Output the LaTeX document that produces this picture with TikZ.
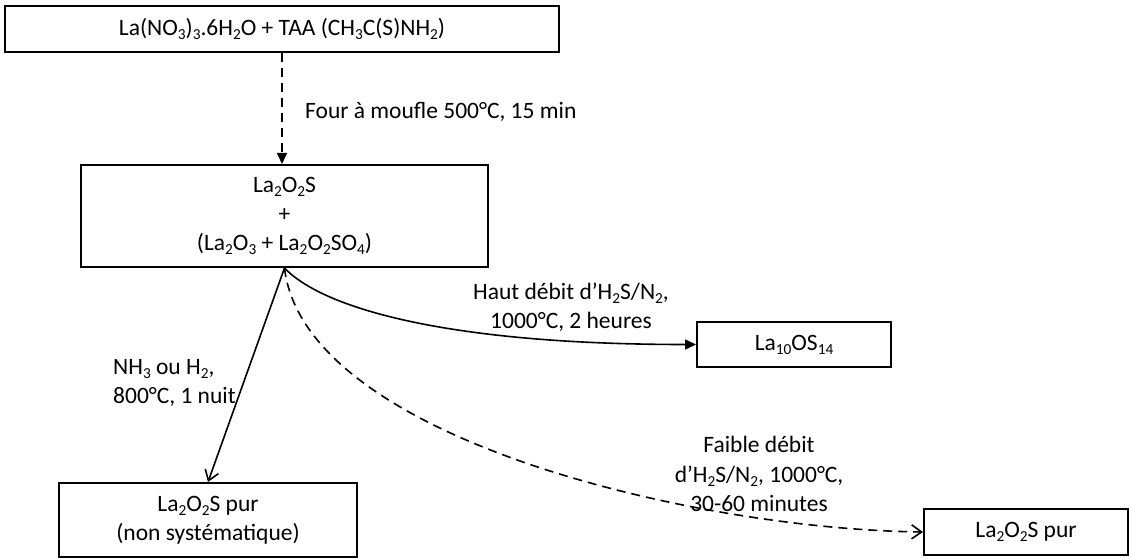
\documentclass[tikz,border=0pt]{standalone}
\usepackage{fontspec}
\setmainfont{Carlito}
\usetikzlibrary{arrows.meta}
\newcommand\chsub[1]{\raisebox{-4pt}{\fontsize{15.3}{15.3}\selectfont #1}}
\begin{document}
\begin{tikzpicture}[x=1pt,y=-1pt,
  box/.style={draw, line width=2pt, inner sep=0pt, align=center, font=\fontsize{23.5}{29}\selectfont},
  lbl/.style={inner sep=0pt, font=\fontsize{23.5}{29.5}\selectfont},
  conn/.style={line width=1.6pt},
  dsh/.style={dash pattern=on 9pt off 6pt},
  filltip/.style={-{Triangle[length=11pt,width=10pt]}},
  opentip/.style={-{Straight Barb[length=10pt,width=14pt,line width=1.6pt]}},
]
\useasboundingbox (0,0) rectangle (1130,559);
\fill[white] (0,0) rectangle (1130,559);
\node[box, minimum width=554pt, minimum height=46pt] (top) at (282,29)
  {La(NO\chsub{3})\chsub{3}.6H\chsub{2}O + TAA (CH\chsub{3}C(S)NH\chsub{2})};
\node[box, minimum width=407pt, minimum height=102pt] (b2) at (284.5,216)
  {La\chsub{2}O\chsub{2}S\\+\\(La\chsub{2}O\chsub{3} + La\chsub{2}O\chsub{2}SO\chsub{4})};
\node[box, minimum width=194pt, minimum height=45pt] (b3) at (794,344.5)
  {La\chsub{10}OS\chsub{14}};
\node[box, minimum width=298pt, minimum height=74pt] (b4) at (208,520)
  {La\chsub{2}O\chsub{2}S pur\\(non systématique)};
\node[box, minimum width=204pt, minimum height=46pt] (b5) at (1026,532)
  {La\chsub{2}O\chsub{2}S pur};

\draw[conn, dsh, filltip] (top.south) -- (top.south |- b2.north);
\draw[conn, filltip] (b2.south) .. controls +(38,40) and +(-250,0) .. (b3.west);
\draw[conn, opentip] (b2.south) -- (b4.north);
\draw[conn, dsh, opentip] (b2.south) .. controls +(20,170) and +(-230,-3) .. (b5.west);

\node[lbl, anchor=west] (l1) at (305,112) {Four à moufle 500°C, 15 min};
\node[lbl, align=center] (l2) at (571,307) {Haut débit d’H\chsub{2}S/N\chsub{2},\\1000°C, 2 heures};
\node[lbl, align=left, anchor=west] (l3) at (113,383) {NH\chsub{3} ou H\chsub{2},\\800°C, 1 nuit};
\node[lbl, align=center] (l4) at (759,474) {Faible débit\\d’H\chsub{2}S/N\chsub{2}, 1000°C,\\30-60 minutes};
\end{tikzpicture}
\end{document}
